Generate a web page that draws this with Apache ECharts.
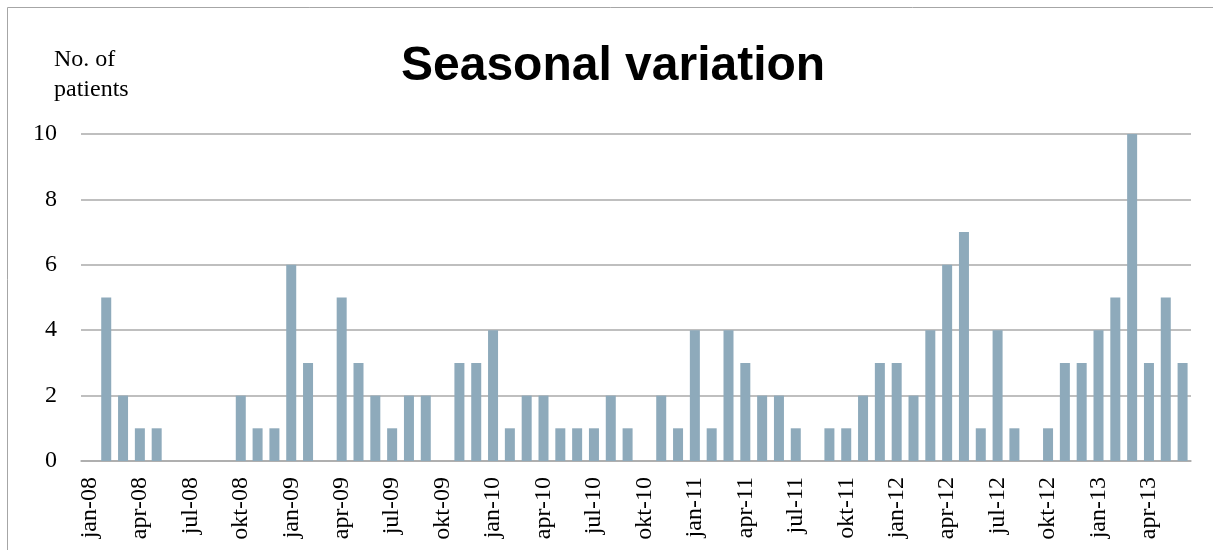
<!DOCTYPE html>
<html style="height: 100%">
<head>
  <meta charset="UTF-8">
  <title>Seasonal variation</title>
</head>
<body style="height: 100%; margin: 0; background: #fff">
<div id="container" style="width: 1213px; height: 550px"></div>
<script type="text/javascript" src="https://cdn.jsdelivr.net/npm/echarts@6/dist/echarts.min.js"></script>
<script type="text/javascript">
  // months jan-08 .. jun-13
  var monthNames = ['jan', 'feb', 'mar', 'apr', 'maj', 'jun', 'jul', 'aug', 'sep', 'okt', 'nov', 'dec'];
  var years = ['08', '09', '10', '11', '12', '13'];
  var categories = [];
  years.forEach(function (y) {
    monthNames.forEach(function (m) {
      categories.push(m + '-' + y);
    });
  });
  categories = categories.slice(0, 66);

  var patients = [
    0, 5, 2, 1, 1, 0, 0, 0, 0, 2, 1, 1,
    6, 3, 0, 5, 3, 2, 1, 2, 2, 0, 3, 3,
    4, 1, 2, 2, 1, 1, 1, 2, 1, 0, 2, 1,
    4, 1, 4, 3, 2, 2, 1, 0, 1, 1, 2, 3,
    3, 2, 4, 6, 7, 1, 4, 1, 0, 1, 3, 3,
    4, 5, 10, 3, 5, 3
  ];

  var yTicks = [0, 2, 4, 6, 8, 10];

  var dom = document.getElementById('container');
  var myChart = echarts.init(dom, null, { renderer: 'canvas' });

  var option = {
    animation: false,
    backgroundColor: '#ffffff',
    title: [
      {
        text: 'Seasonal variation',
        left: 396,
        top: 38,
        textStyle: {
          fontFamily: 'Liberation Sans',
          fontWeight: 'bold',
          fontSize: 48,
          color: '#000'
        }
      },
      {
        text: 'No. of\npatients',
        left: 49,
        top: 40,
        textStyle: {
          fontFamily: 'Liberation Serif',
          fontWeight: 'normal',
          fontSize: 24,
          lineHeight: 30,
          color: '#000'
        }
      }
    ],
    graphic: [
      {
        type: 'rect',
        shape: { x: 7.5, y: 7.5, width: 1300, height: 600 },
        style: { fill: 'none', stroke: '#a6a6a6', lineWidth: 1 },
        silent: true
      }
    ],
    grid: {
      left: 81,
      right: 22,
      top: 134,
      bottom: 89
    },
    xAxis: {
      type: 'category',
      data: categories,
      axisLine: { lineStyle: { color: '#aaaaaa', width: 1.5 } },
      axisTick: { show: false },
      axisLabel: {
        interval: 2,
        rotate: 90,
        margin: 16,
        fontFamily: 'Liberation Serif',
        fontSize: 24,
        color: '#000'
      }
    },
    yAxis: {
      type: 'value',
      min: yTicks[0],
      max: yTicks[yTicks.length - 1],
      interval: 2,
      axisLine: { show: false },
      axisTick: { show: false },
      splitLine: { lineStyle: { color: '#aaaaaa', width: 1.5 } },
      axisLabel: {
        margin: 24,
        fontFamily: 'Liberation Serif',
        fontSize: 24,
        color: '#000'
      }
    },
    series: [
      {
        name: 'No. of patients',
        type: 'bar',
        data: patients,
        barWidth: 10,
        itemStyle: { color: '#8eaabb' }
      }
    ]
  };
  myChart.setOption(option);
</script>
</body>
</html>
